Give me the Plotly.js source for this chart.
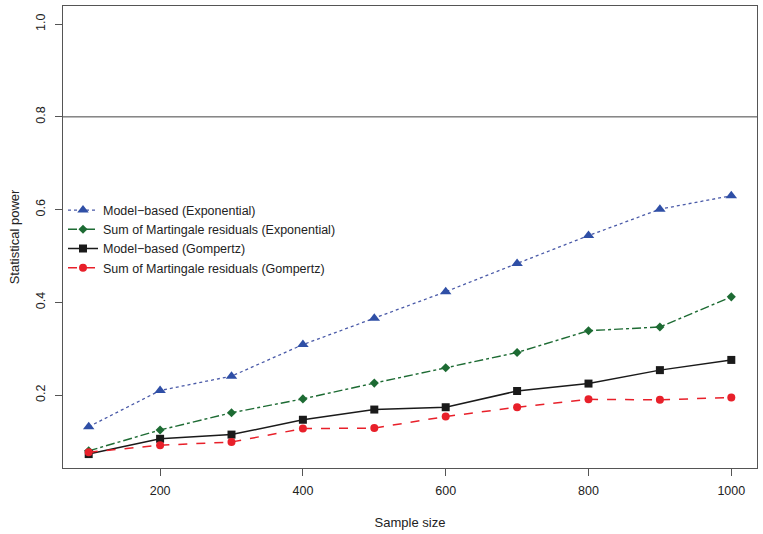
<!DOCTYPE html>
<html>
<head>
<meta charset="utf-8">
<script src="https://cdn.plot.ly/plotly-3.0.1.min.js"></script>
<style>html,body{margin:0;padding:0;background:#fff;}#chart{width:763px;height:534px;}</style>
</head>
<body>
<div id="chart"></div>
<script>
// ---- data ----
var sampleSizes = [100, 200, 300, 400, 500, 600, 700, 800, 900, 1000];
var modelExp    = [0.132, 0.210, 0.241, 0.309, 0.366, 0.423, 0.484, 0.544, 0.601, 0.630];
var martExp     = [0.080, 0.125, 0.162, 0.192, 0.226, 0.259, 0.292, 0.339, 0.347, 0.412];
var modelGomp   = [0.073, 0.106, 0.115, 0.147, 0.169, 0.174, 0.209, 0.225, 0.254, 0.276];
var martGomp    = [0.077, 0.092, 0.099, 0.128, 0.129, 0.154, 0.174, 0.191, 0.190, 0.195];
var seriesNames = ["Model\u2212based (Exponential)", "Sum of Martingale residuals (Exponential)",
                   "Model\u2212based (Gompertz)", "Sum of Martingale residuals (Gompertz)"];
var xTicks = [200, 400, 600, 800, 1000];
var yTicks = [0.2, 0.4, 0.6, 0.8, 1.0];
var targetPower = 0.8;

var font = "'Liberation Sans', Arial, Helvetica, sans-serif";

var traces = [
  {x: sampleSizes, y: modelExp, name: seriesNames[0], mode: 'lines+markers',
   line: {color: '#4a5aa8', dash: 'dot', width: 1.3},
   marker: {symbol: 'triangle-up', size: 10, color: '#2f4fa6'}},
  {x: sampleSizes, y: martExp, name: seriesNames[1], mode: 'lines+markers',
   line: {color: '#1d6b33', dash: 'dashdot', width: 1.4},
   marker: {symbol: 'diamond', size: 7, color: '#1d6b33'}},
  {x: sampleSizes, y: modelGomp, name: seriesNames[2], mode: 'lines+markers',
   line: {color: '#1a1a1a', dash: 'solid', width: 1.5},
   marker: {symbol: 'square', size: 8, color: '#1a1a1a'}},
  {x: sampleSizes, y: martGomp, name: seriesNames[3], mode: 'lines+markers',
   line: {color: '#e8202a', dash: 'dash', width: 1.5},
   marker: {symbol: 'circle', size: 8, color: '#e8202a'}}
];

var layout = {
  width: 763, height: 534,
  margin: {l: 63, r: 6, t: 6, b: 66},
  paper_bgcolor: '#fff', plot_bgcolor: '#fff',
  font: {family: font, size: 12, color: '#222'},
  showlegend: true,
  legend: {x: 0.0, y: 0.59, xanchor: 'left', yanchor: 'top',
           bgcolor: 'rgba(0,0,0,0)', font: {size: 12.5, color: '#222'}},
  xaxis: {
    range: [64, 1036], tickvals: xTicks, ticktext: xTicks.map(String),
    showgrid: false, zeroline: false, showline: true, mirror: true,
    linecolor: '#555', linewidth: 1, ticks: 'outside', ticklen: 7, tickcolor: '#555',
    ticklabelstandoff: 4,
    tickfont: {size: 12.5, color: '#222'},
    title: {text: 'Sample size', font: {size: 13, color: '#222'}, standoff: 20}
  },
  yaxis: {
    range: [0.043, 1.039], tickvals: yTicks, ticktext: ['0.2','0.4','0.6','0.8','1.0'],
    showgrid: false, zeroline: false, showline: true, mirror: true,
    linecolor: '#555', linewidth: 1, ticks: 'outside', ticklen: 7, tickcolor: '#555',
    ticklabelstandoff: 5,
    tickangle: -90, tickfont: {size: 12.5, color: '#222'},
    title: {text: 'Statistical power', font: {size: 13, color: '#222'}, standoff: 11}
  },
  shapes: [{type: 'line', xref: 'paper', x0: 0, x1: 1, yref: 'y', y0: targetPower, y1: targetPower,
            line: {color: '#444', width: 1}}]
};

Plotly.newPlot('chart', traces, layout, {displayModeBar: false, staticPlot: true});
</script>
</body>
</html>
